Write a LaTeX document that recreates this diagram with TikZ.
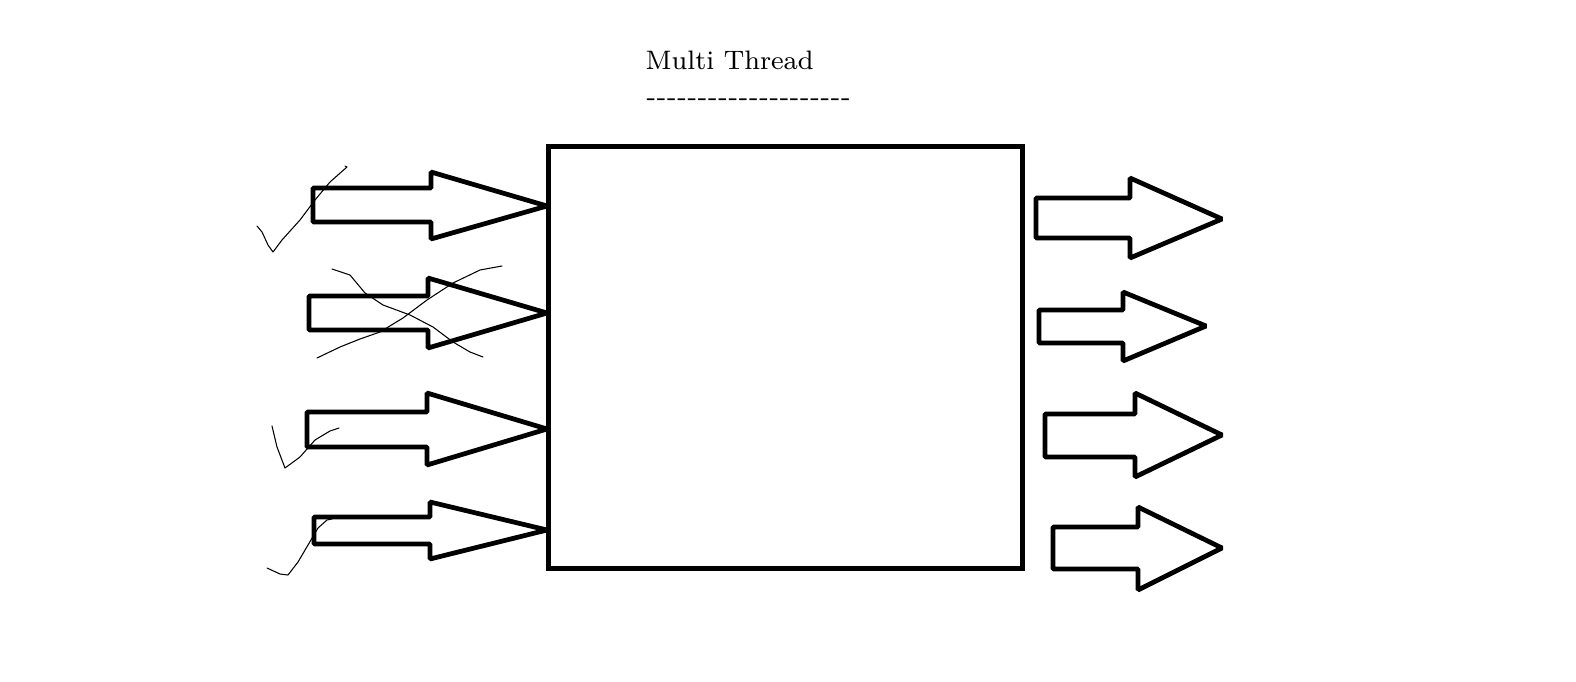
\documentclass[tikz,border=0pt]{standalone}
\tikzset{
  blk/.style={line width=1.35pt, line join=bevel, draw=black, fill=white},
  scribble/.style={line width=0.3pt, draw=black, line join=round, line cap=round},
  boxstyle/.style={draw=black, line width=1.4pt, inner sep=0pt, outer sep=0pt},
  titlestyle/.style={font=\fontsize{7.6}{9}\selectfont, inner sep=0pt, anchor=base west}
}
\newcommand\hyk{\mbox{-}\kern0.22pt}
\begin{document}
\begin{tikzpicture}[x=0.01cm, y=-0.01cm]
\useasboundingbox (0,0) rectangle (1576,682);
% title
\node[titlestyle] (title) at (645,70) {Multi Thread};
\node[titlestyle] (rule) at (646,106) {\hyk\hyk\hyk\hyk\hyk\hyk\hyk\hyk\hyk\hyk\hyk\hyk\hyk\hyk\hyk\hyk\hyk\hyk\hyk\mbox{-}};
% left arrows
\draw[blk] (313,188) -- (431,188) -- (431,172) -- (547,206) -- (431,239) -- (431,222) -- (313,222) -- cycle;
\draw[blk] (309,296) -- (428,296) -- (428,278) -- (547,313) -- (428,348) -- (428,330) -- (309,330) -- cycle;
\draw[blk] (307,412) -- (427,412) -- (427,393) -- (547,429) -- (427,465) -- (427,447) -- (307,447) -- cycle;
\draw[blk] (314,517) -- (430,517) -- (430,502) -- (547,530) -- (430,559) -- (430,544) -- (314,544) -- cycle;
% right arrows
\draw[blk] (1036,198) -- (1130,198) -- (1130,178) -- (1222,219) -- (1130,258) -- (1130,238) -- (1036,238) -- cycle;
\draw[blk] (1039,310) -- (1123,310) -- (1123,292) -- (1206,326) -- (1123,361) -- (1123,343) -- (1039,343) -- cycle;
\draw[blk] (1045,414) -- (1135,414) -- (1135,393) -- (1222,435) -- (1135,477) -- (1135,457) -- (1045,457) -- cycle;
\draw[blk] (1053,527) -- (1138,527) -- (1138,507) -- (1222,548) -- (1138,590) -- (1138,569) -- (1053,569) -- cycle;
% central box
\node[boxstyle, minimum width=4.74cm, minimum height=4.21cm] (box) at (785.5,357.5) {};
% scribbles
\draw[scribble] (257,226) -- (262,232) -- (268,245) -- (273,252) -- (282,240) -- (300,220) -- (315,200) -- (330,182) -- (347,167) -- (345,166);
\draw[scribble] (332,269) -- (350,275) -- (365,293) -- (383,305) -- (410,315) -- (433,327) -- (453,342) -- (470,352) -- (483,357);
\draw[scribble] (317,358) -- (340,347) -- (360,339) -- (380,332) -- (403,318) -- (427,300) -- (453,283) -- (480,270) -- (502,266);
\draw[scribble] (272,426) -- (277,447) -- (285,468) -- (300,457) -- (315,440) -- (330,431) -- (339,428);
\draw[scribble] (267,568) -- (280,574) -- (288,575) -- (298,562) -- (308,545) -- (318,528) -- (327,520) -- (332,519);
\end{tikzpicture}
\end{document}
